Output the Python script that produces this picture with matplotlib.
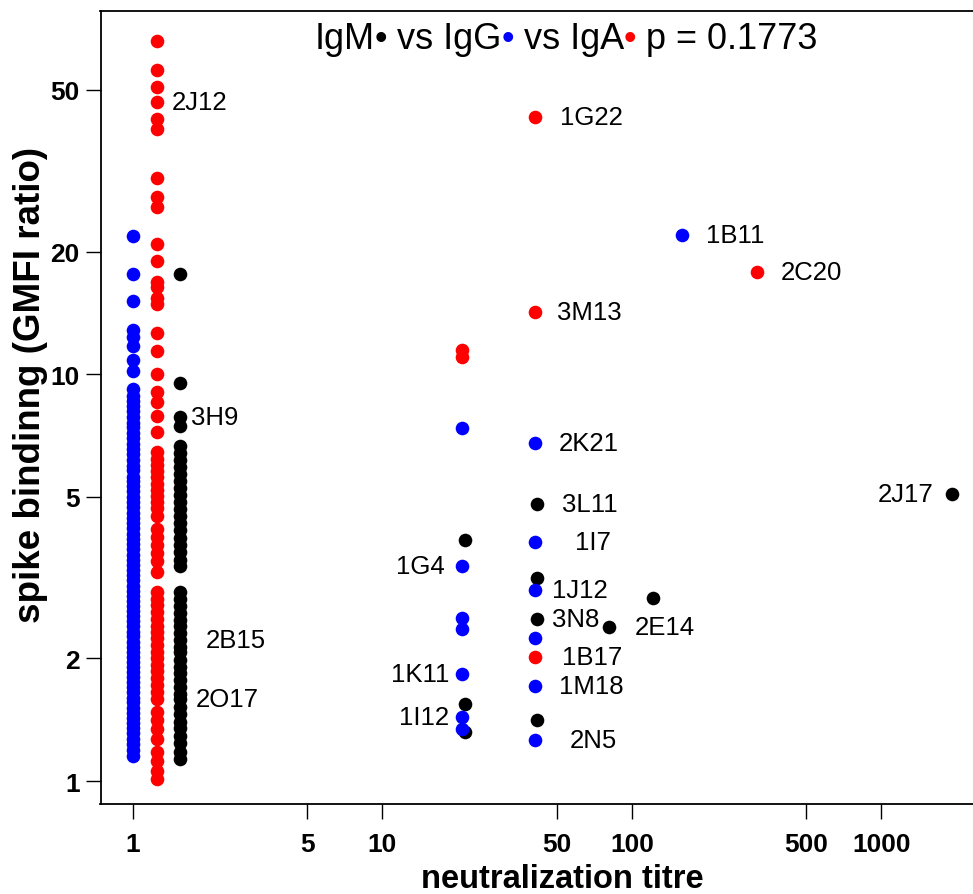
import numpy as np
import matplotlib.pyplot as plt
from matplotlib.offsetbox import TextArea, HPacker, AnchoredOffsetbox
from matplotlib.ticker import FixedLocator, NullLocator, FixedFormatter

plt.rcParams['font.family'] = ['Liberation Sans', 'DejaVu Sans']

# --- IgM (black) -------------------------------------------------------------
igm_titre = [1.55] * 47 + [21.5, 21.5, 21.5, 41.6, 41.6, 41.6, 41.6, 81, 121.5, 1918]
igm_bind = [17.6, 9.5, 7.84, 7.45,
            6.66, 6.4, 6.15, 5.9, 5.68, 5.45, 5.25, 5.05, 4.85, 4.66, 4.48, 4.3,
            4.13, 3.96, 3.8, 3.65, 3.5, 3.37,
            2.91, 2.8, 2.69, 2.59, 2.49, 2.4, 2.31, 2.22, 2.14, 2.07, 1.98, 1.91,
            1.84, 1.77, 1.7, 1.64, 1.59, 1.52, 1.46, 1.4, 1.35, 1.29, 1.24, 1.18, 1.13,
            3.90, 1.55, 1.32, 4.79, 3.15, 2.50, 1.415, 2.39, 2.81, 5.07]
igm_names = [""] * 2 + ["3H9"] + [""] * 26 + ["2B15"] + [""] * 8 + ["2O17"] + [""] * 8 \
            + ["", "", "", "3L11", "", "3N8", "", "2E14", "", "2J17"]

# --- IgG (blue) --------------------------------------------------------------
igg_titre = [1.0] * 79 + [20.9, 40.9, 40.9, 20.9, 40.9, 20.9, 20.9, 40.9, 20.9,
                          40.9, 20.9, 20.9, 40.9, 158.8]
igg_bind = [21.8, 17.6, 15.1, 12.8, 12.3, 11.7, 10.8, 10.2, 9.2, 8.85, 8.6, 8.36,
            8.1, 7.85, 7.6, 7.4, 7.15, 6.95, 6.75, 6.55, 6.35, 6.15, 5.95, 5.8,
            5.6, 5.45, 5.3, 5.15, 5.0, 4.85, 4.7, 4.55, 4.42, 4.3, 4.18, 4.05,
            3.93, 3.82, 3.71, 3.6, 3.5, 3.4, 3.3, 3.2, 3.11, 3.02, 2.93, 2.85,
            2.77, 2.69, 2.61, 2.54, 2.47, 2.4, 2.33, 2.27, 2.2, 2.14, 2.08, 2.02,
            1.96, 1.91, 1.85, 1.8, 1.75, 1.7, 1.65, 1.6, 1.56, 1.51, 1.47, 1.43,
            1.39, 1.35, 1.31, 1.27, 1.23, 1.19, 1.15,
            7.37, 6.76, 3.86, 3.38, 2.95, 2.51, 2.36, 2.25, 1.83, 1.71, 1.44, 1.34,
            1.26, 21.9]
igg_names = [""] * 79 + ["", "2K21", "1I7", "1G4", "1J12", "", "", "", "1K11",
                         "1M18", "1I12", "", "2N5", "1B11"]

# --- IgA (red) ---------------------------------------------------------------
iga_titre = [1.25] * 64 + [40.9, 20.9, 20.9, 40.9, 40.9, 317]
iga_bind = [65.9, 55.9, 50.8, 46.6, 42.3, 40.0, 30.3, 27.2, 25.8, 20.9, 19.0,
            16.8, 16.4, 15.4, 14.9, 12.6, 11.4, 10.0, 9.05, 8.55, 7.9, 7.19,
            6.43, 6.2, 5.98, 5.77, 5.57, 5.38, 5.2, 5.02, 4.85, 4.68, 4.48,
            4.16, 3.98, 3.8, 3.63, 3.47, 3.26,
            2.91, 2.8, 2.7, 2.6, 2.5, 2.41, 2.32, 2.24, 2.16, 2.08, 2.0, 1.93,
            1.86, 1.79, 1.72, 1.65, 1.59,
            1.48, 1.41, 1.34, 1.27,
            1.18, 1.12, 1.06, 1.01,
            42.8, 11.45, 11.0, 14.2, 2.02, 17.8]
iga_names = [""] * 3 + ["2J12"] + [""] * 60 + ["1G22", "", "", "3M13", "1B17", "2C20"]

p_value = 0.1773
x_ticks = [1, 5, 10, 50, 100, 500, 1000]
y_ticks = [1, 2, 5, 10, 20, 50]

# horizontal offset (pixels) of each name's centre from its point
name_dx = {"2J12": 43, "3H9": 34, "2B15": 55, "2O17": 47, "1G22": 56, "1B11": 53,
           "2C20": 55, "3M13": 54, "2K21": 54, "3L11": 53, "1I7": 58, "1J12": 45,
           "3N8": 39, "2E14": 56, "1B17": 57, "1M18": 56, "2N5": 58, "1G4": -42,
           "1K11": -42, "1I12": -38, "2J17": -46}

fig = plt.figure(figsize=(9.73, 8.95), dpi=100)
ax = fig.add_axes([100.5 / 973, 90 / 895, 951.5 / 973, 793 / 895])

groups = [(igm_titre, igm_bind, igm_names, "black"),
          (iga_titre, iga_bind, iga_names, "red"),
          (igg_titre, igg_bind, igg_names, "blue")]
for titre, bind, names, col in groups:
    ax.scatter(titre, bind, s=96, c=col, linewidths=0, zorder=3, clip_on=False)
    for xv, yv, nm in zip(titre, bind, names):
        if nm:
            ax.annotate(nm, (xv, yv), xytext=(name_dx[nm], 0),
                        textcoords="offset pixels", ha="center", va="center",
                        fontsize=18.5)

ax.set_xscale("log")
ax.set_yscale("log")
ax.set_xlim(0.742, 4830)
ax.set_ylim(0.878, 78)

ax.xaxis.set_major_locator(FixedLocator(x_ticks))
ax.xaxis.set_major_formatter(FixedFormatter([str(t) for t in x_ticks]))
ax.xaxis.set_minor_locator(NullLocator())
ax.yaxis.set_major_locator(FixedLocator(y_ticks))
ax.yaxis.set_major_formatter(FixedFormatter([str(t) for t in y_ticks]))
ax.yaxis.set_minor_locator(NullLocator())
ax.tick_params(axis="both", length=11, width=1.0, labelsize=19)
ax.tick_params(axis="x", pad=9)
ax.tick_params(axis="y", pad=4)
for lab in ax.get_xticklabels() + ax.get_yticklabels():
    lab.set_fontweight("bold")
for sp in ax.spines.values():
    sp.set_linewidth(1.3)

ax.set_xlabel("neutralization titre", fontsize=23.5, fontweight="bold")
ax.set_ylabel("spike bindinng (GMFI ratio)", fontsize=26.5, fontweight="bold")
ax.xaxis.set_label_coords(0.485, -0.094)
ax.yaxis.set_label_coords(-0.074, 0.53)
ax.xaxis.label.set_va("center")
ax.yaxis.label.set_va("center")

# title line with a coloured dot after each isotype
pieces = [("IgM", "black"), ("\u2022", "black"), (" vs IgG", "black"),
          ("\u2022", "blue"), (" vs IgA", "black"), ("\u2022", "red"),
          (" p = {:.4f}".format(p_value), "black")]
box = HPacker(children=[TextArea(t, textprops=dict(color=c, fontsize=26))
                        for t, c in pieces], align="baseline", pad=0, sep=0)
anchored = AnchoredOffsetbox(loc="upper center", child=box, frameon=False, pad=0,
                             borderpad=0, bbox_to_anchor=(566, 895 - 22),
                             bbox_transform=None)
ax.add_artist(anchored)

fig.savefig("out.png", dpi=100)
